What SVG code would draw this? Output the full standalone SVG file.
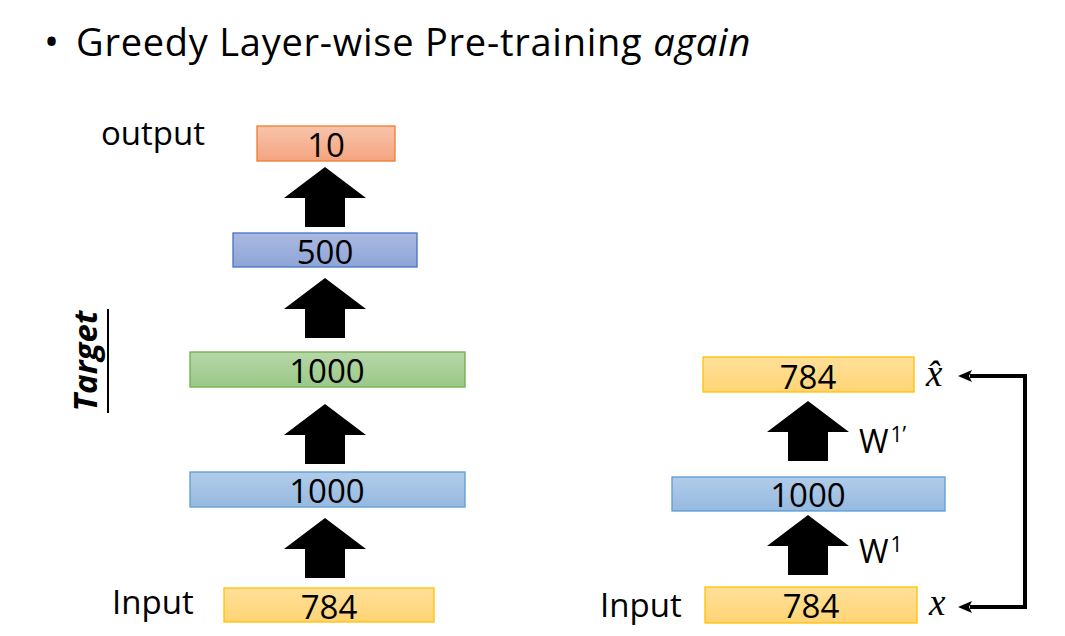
<svg xmlns="http://www.w3.org/2000/svg" width="1065" height="636" viewBox="0 0 1065 636">
<defs>
<linearGradient id="gOrange" x1="0" y1="0" x2="0" y2="1"><stop offset="0" stop-color="#f8c4ab"/><stop offset="1" stop-color="#f4a47f"/></linearGradient>
<linearGradient id="gPurple" x1="0" y1="0" x2="0" y2="1"><stop offset="0" stop-color="#aab9e1"/><stop offset="1" stop-color="#8ea5d8"/></linearGradient>
<linearGradient id="gGreen" x1="0" y1="0" x2="0" y2="1"><stop offset="0" stop-color="#b6d7a8"/><stop offset="1" stop-color="#9ac888"/></linearGradient>
<linearGradient id="gBlue" x1="0" y1="0" x2="0" y2="1"><stop offset="0" stop-color="#b1ccea"/><stop offset="1" stop-color="#96b9df"/></linearGradient>
<linearGradient id="gYellow" x1="0" y1="0" x2="0" y2="1"><stop offset="0" stop-color="#ffe09a"/><stop offset="1" stop-color="#ffd474"/></linearGradient>
<marker id="ah" viewBox="0 0 14 12" markerWidth="14" markerHeight="12" refX="2" refY="6" orient="auto-start-reverse" markerUnits="userSpaceOnUse"><path d="M0,0 L14,6 L0,12 L3,6 z" fill="#000"/></marker>
<path id="blk" d="M0,0 L41,31 L20,31 L20,60 L-20,60 L-20,31 L-41,31 Z"/>
</defs>
<style>
text{font-family:"Open Sans","Liberation Sans",sans-serif;fill:#000}
.num{font-size:33px;text-anchor:middle}
.lbl{font-size:33px}
.w{font-size:32px}
.math{font-family:"Liberation Serif","DejaVu Serif",serif;font-style:italic;font-size:37px}
.box{stroke-width:1.3}
.ar{fill:#000}
</style>
<rect width="1065" height="636" fill="#fff"/>
<g id="title">
<text x="44" y="56" font-size="40">•</text>
<text x="76" y="56" font-size="38" letter-spacing="0.75">Greedy Layer-wise Pre-training <tspan font-style="italic">again</tspan></text>
</g>
<g id="target-label">
<text transform="translate(97,361) rotate(-90)" text-anchor="middle" font-size="33" font-weight="bold" font-style="italic">Target</text>
<line x1="108" y1="309" x2="108" y2="413" stroke="#000" stroke-width="2"/>
</g>
<g id="output-label"><text class="lbl" x="101" y="145">output</text></g>
<g id="input-label-left"><text class="lbl" x="112" y="614">Input</text></g>
<g id="input-label-right"><text class="lbl" x="600" y="617">Input</text></g>

<g id="node-10"><rect class="box" x="257" y="126" width="138" height="35" fill="url(#gOrange)" stroke="#ed7d31"/><text class="num" x="326" y="157">10</text></g>
<g id="node-500"><rect class="box" x="233" y="233" width="184" height="34" fill="url(#gPurple)" stroke="#4472c4"/><text class="num" x="325" y="264">500</text></g>
<g id="node-1000-green"><rect class="box" x="190" y="352" width="275" height="35" fill="url(#gGreen)" stroke="#70ad47"/><text class="num" x="327" y="383">1000</text></g>
<g id="node-1000-left"><rect class="box" x="190" y="472" width="275" height="35" fill="url(#gBlue)" stroke="#5b9bd5"/><text class="num" x="327" y="503">1000</text></g>
<g id="node-784-left"><rect class="box" x="224" y="588" width="210" height="34" fill="url(#gYellow)" stroke="#ffc000"/><text class="num" x="329" y="619">784</text></g>

<g id="node-784-top-right"><rect class="box" x="703" y="357" width="211" height="35" fill="url(#gYellow)" stroke="#ffc000"/><text class="num" x="808" y="389">784</text></g>
<g id="node-1000-right"><rect class="box" x="672" y="477" width="273" height="34" fill="url(#gBlue)" stroke="#5b9bd5"/><text class="num" x="808" y="507">1000</text></g>
<g id="node-784-bottom-right"><rect class="box" x="705" y="587" width="212" height="36" fill="url(#gYellow)" stroke="#ffc000"/><text class="num" x="811" y="618">784</text></g>

<g id="xhat-label"><text class="math" x="926" y="386">x&#770;</text></g>
<g id="x-label"><text class="math" x="929" y="615">x</text></g>
<g id="w1p-label"><text class="w" x="859" y="453">W<tspan font-size="21" dx="2" dy="-11">1’</tspan></text></g>
<g id="w1-label"><text class="w" x="859" y="563">W<tspan font-size="21" dx="2" dy="-11">1</tspan></text></g>

<g id="connectors">
<use href="#blk" class="ar" x="325" y="167"/>
<use href="#blk" class="ar" x="325" y="278"/>
<use href="#blk" class="ar" x="325" y="404"/>
<use href="#blk" class="ar" x="325" y="518"/>
<use href="#blk" class="ar" x="808" y="401"/>
<use href="#blk" class="ar" x="808" y="515"/>
<path d="M970,376 H1025 V607 H970" fill="none" stroke="#000" stroke-width="4" marker-start="url(#ah)" marker-end="url(#ah)"/>
</g>
</svg>
